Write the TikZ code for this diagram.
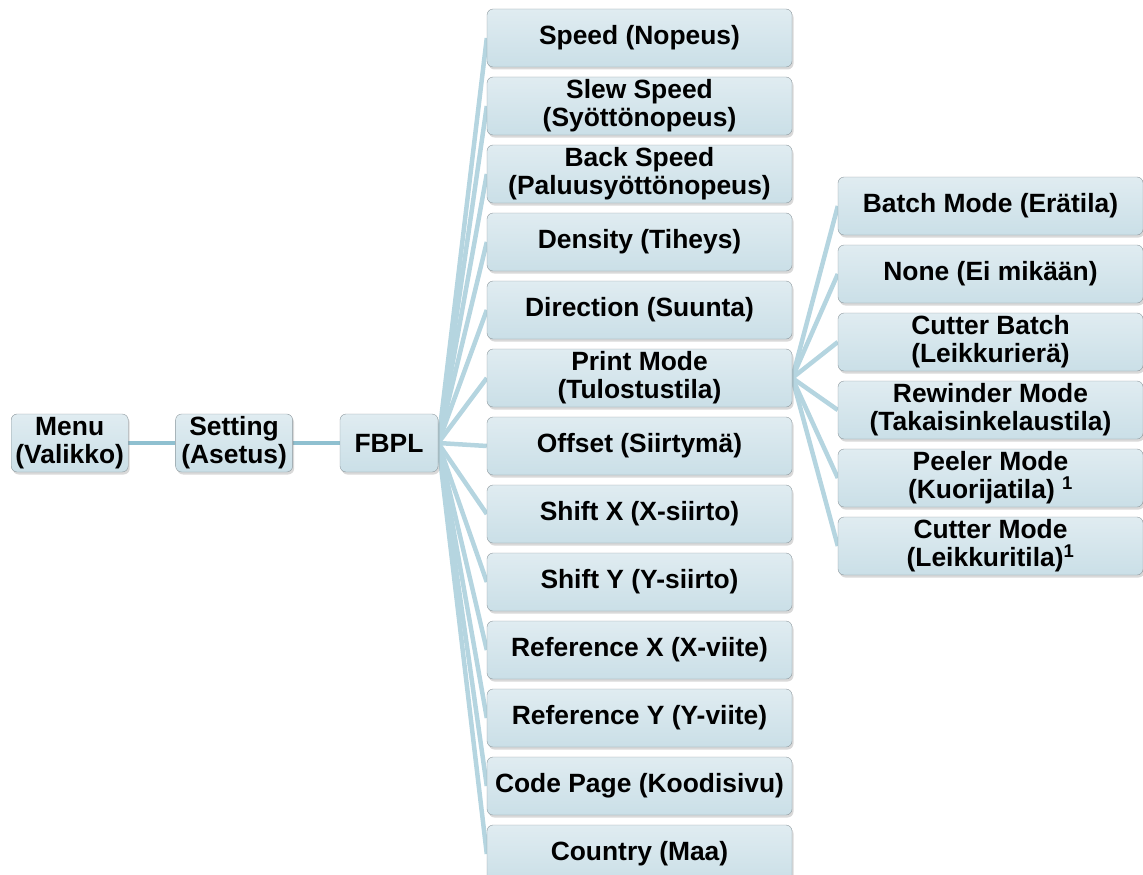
\documentclass[tikz,border=0pt]{standalone}
\usepackage{fontspec}
\setmainfont{Liberation Sans}
\usetikzlibrary{positioning,shadows,backgrounds}
\definecolor{cline}{HTML}{B5D5E0}
\definecolor{cedge}{HTML}{8FC0D0}
\definecolor{ctop}{HTML}{E0ECF1}
\definecolor{cbot}{HTML}{CADFE7}
\definecolor{cbord}{HTML}{8E999E}

\begin{document}
\begin{tikzpicture}[x=1pt,y=-1pt,
    b/.style={draw=cbord,rounded corners=6pt,top color=ctop,bottom color=cbot,
      drop shadow={shadow xshift=1.5pt,shadow yshift=-2.5pt,opacity=.3},
      minimum width=305pt,minimum height=58pt,inner sep=0pt,align=center,
      font=\fontsize{26.4}{28}\selectfont\bfseries},
    sm/.style={b,minimum width=117pt},
    ln/.style={cline,line width=4.5pt},
    node distance=9.6pt]
    \useasboundingbox (0,0) rectangle (1143,875);
    % left chain
    \node[b,minimum width=98pt] (fb) at (389,443) {FBPL};
    \node[sm,left=47pt of fb] (set) {Setting\\(Asetus)};
    \node[sm,left=47pt of set] (menu) {Menu\\(Valikko)};
    % FBPL items
    \node[b] (s1) at (639.5,38) {Speed (Nopeus)};
    \node[b,below=of s1] (s2) {Slew Speed\\(Syöttönopeus)};
    \node[b,below=of s2] (s3) {Back Speed\\(Paluusyöttönopeus)};
    \node[b,below=of s3] (s4) {Density (Tiheys)};
    \node[b,below=of s4] (s5) {Direction (Suunta)};
    \node[b,below=of s5] (pm) {Print Mode\\(Tulostustila)};
    \node[b,below=of pm] (s7) {Offset (Siirtymä)};
    \node[b,below=of s7] (s8) {Shift X (X-siirto)};
    \node[b,below=of s8] (s9) {Shift Y (Y-siirto)};
    \node[b,below=of s9] (s10) {Reference X (X-viite)};
    \node[b,below=of s10] (s11) {Reference Y (Y-viite)};
    \node[b,below=of s11] (s12) {Code Page (Koodisivu)};
    \node[b,below=of s12] (s13) {Country (Maa)};
    % print mode items
    \node[b] (m1) at (990.5,206) {Batch Mode (Erätila)};
    \node[b,below=of m1] (m2) {None (Ei mikään)};
    \node[b,below=of m2] (m3) {Cutter Batch\\(Leikkurierä)};
    \node[b,below=of m3] (m4) {Rewinder Mode\\(Takaisinkelaustila)};
    \node[b,below=of m4] (m5) {Peeler Mode\\(Kuorijatila) \textsuperscript{1}};
    \node[b,below=of m5] (m6) {Cutter Mode\\(Leikkuritila)\textsuperscript{1}};
    \begin{scope}[on background layer]
      \draw[ln,cedge] (menu.east)--(set.west);
      \draw[ln,cedge] (set.east)--(fb.west);
      \foreach \n in {s1,s2,s3,s4,s5,pm,s7,s8,s9,s10,s11,s12,s13}
        \draw[ln] (fb.east)--(\n.west);
      \foreach \n in {m1,m2,m3,m4,m5,m6}
        \draw[ln] (pm.east)--(\n.west);
    \end{scope}
  \end{tikzpicture}
\end{document}
